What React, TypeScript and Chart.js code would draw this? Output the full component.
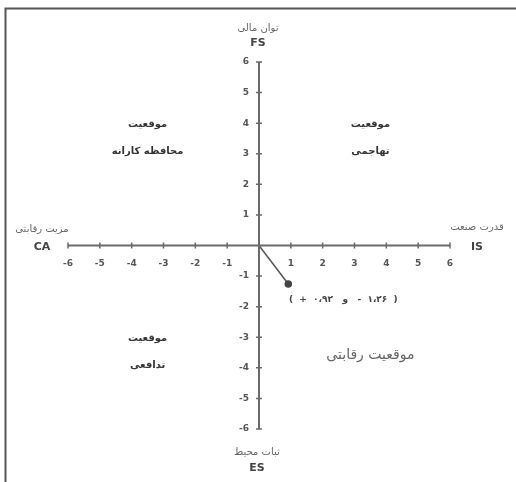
import React, { useEffect, useRef } from "react";
import { Chart, registerables } from "chart.js";

Chart.register(...registerables);

// Data
const xTickValues = [-6, -5, -4, -3, -2, -1, 1, 2, 3, 4, 5, 6];
const yTickValues = [-6, -5, -4, -3, -2, -1, 1, 2, 3, 4, 5, 6];
const pointX = [0, 0.92];
const pointY = [0, -1.26];
const pointLabel = "\u202D(  +  ۰،۹۲   و   -  ۱،۲۶  )\u202C";
const axisTitles = {
  top: ["توان مالی", "FS"],
  bottom: ["ثبات محیط", "ES"],
  left: ["مزیت رقابتی", "CA"],
  right: ["قدرت صنعت", "IS"],
};
const quadrantLabels = [
  { x: -3.5, y: 3.95, lines: ["موقعیت", "محافظه کارانه"] },
  { x: 3.5, y: 3.95, lines: ["موقعیت", "تهاجمی"] },
  { x: -3.5, y: -3.05, lines: ["موقعیت", "تدافعی"] },
];
const competitiveLabel = { x: 3.5, y: -3.6, text: "موقعیت رقابتی" };

const FONT = "'DejaVu Sans', sans-serif";

const crossPlugin = {
  id: "crossAxes",
  afterDatasetsDraw(chart: any) {
    const { ctx, scales } = chart;
    const xs = scales.x;
    const ys = scales.y;
    const x0 = xs.getPixelForValue(0);
    const y0 = ys.getPixelForValue(0);
    ctx.save();
    // frame
    ctx.strokeStyle = "#555";
    ctx.lineWidth = 2;
    ctx.beginPath();
    ctx.moveTo(5.5, 482);
    ctx.lineTo(5.5, 8.5);
    ctx.lineTo(516, 8.5);
    ctx.stroke();

    // axes
    ctx.strokeStyle = "#6a6a6a";
    ctx.lineWidth = 2;
    ctx.beginPath();
    ctx.moveTo(xs.getPixelForValue(-6), y0);
    ctx.lineTo(xs.getPixelForValue(6), y0);
    ctx.moveTo(x0, ys.getPixelForValue(6));
    ctx.lineTo(x0, ys.getPixelForValue(-6));
    ctx.stroke();

    // ticks
    ctx.lineWidth = 1.5;
    ctx.beginPath();
    xTickValues.forEach((v) => {
      const px = xs.getPixelForValue(v);
      ctx.moveTo(px, y0 - 3);
      ctx.lineTo(px, y0 + 3);
    });
    yTickValues.forEach((v) => {
      const py = ys.getPixelForValue(v);
      ctx.moveTo(x0 - 3, py);
      ctx.lineTo(x0 + 3, py);
    });
    ctx.stroke();

    // tick labels
    ctx.fillStyle = "#555";
    ctx.font = `bold 9px ${FONT}`;
    ctx.textBaseline = "middle";
    ctx.textAlign = "center";
    xTickValues.forEach((v) => {
      ctx.fillText(String(v), xs.getPixelForValue(v), y0 + 18);
    });
    ctx.textAlign = "right";
    yTickValues.forEach((v) => {
      ctx.fillText(String(v), x0 - 10, ys.getPixelForValue(v));
    });

    // axis titles
    ctx.textAlign = "center";
    const drawTitle = (cx: number, cy1: number, cy2: number, t: string[]) => {
      ctx.fillStyle = "#666";
      ctx.font = `10px ${FONT}`;
      ctx.fillText(t[0], cx, cy1);
      ctx.fillStyle = "#444";
      ctx.font = `bold 11px ${FONT}`;
      ctx.fillText(t[1], cx, cy2);
    };
    drawTitle(x0 - 1, 28, 43, axisTitles.top);
    drawTitle(x0 - 2, 452, 468, axisTitles.bottom);
    drawTitle(42, 229, 247, axisTitles.left);
    drawTitle(477, 227, 247, axisTitles.right);

    // quadrant labels
    ctx.fillStyle = "#333";
    ctx.font = `bold 10px ${FONT}`;
    quadrantLabels.forEach((q) => {
      const px = xs.getPixelForValue(q.x);
      const py = ys.getPixelForValue(q.y);
      q.lines.forEach((l, i) => ctx.fillText(l, px, py + i * 27));
    });
    ctx.fillStyle = "#666";
    ctx.font = `14px ${FONT}`;
    ctx.fillText(
      competitiveLabel.text,
      xs.getPixelForValue(competitiveLabel.x),
      ys.getPixelForValue(competitiveLabel.y)
    );

    // point label
    ctx.fillStyle = "#444";
    ctx.font = `bold 9px ${FONT}`;
    ctx.fillText(
      pointLabel,
      xs.getPixelForValue(pointX[1]) + 55,
      ys.getPixelForValue(pointY[1]) + 16
    );
    ctx.restore();
  },
};

export default function App() {
  const ref = useRef<HTMLCanvasElement | null>(null);
  useEffect(() => {
    if (!ref.current) return;
    const chart = new Chart(ref.current, {
      type: "scatter",
      data: {
        datasets: [
          {
            data: pointX.map((x, i) => ({ x, y: pointY[i] })),
            showLine: true,
            borderColor: "#555",
            borderWidth: 1.5,
            pointRadius: [0, 3],
            pointBackgroundColor: "#444",
            pointBorderColor: "#444",
          },
        ],
      },
      options: {
        animation: false,
        responsive: false,
        maintainAspectRatio: false,
        layout: { padding: { left: 68, right: 66, top: 62, bottom: 53 } },
        plugins: { legend: { display: false }, tooltip: { enabled: false } },
        scales: {
          x: { type: "linear", min: -6, max: 6, display: false },
          y: { type: "linear", min: -6, max: 6, display: false },
        },
      },
      plugins: [crossPlugin],
    });
    return () => chart.destroy();
  }, []);
  return (
    <div style={{ position: "absolute", left: 0, top: 0, width: 516, height: 482, background: "#fff" }}>
      <canvas ref={ref} width={516} height={482} style={{ display: "block" }} />
    </div>
  );
}
